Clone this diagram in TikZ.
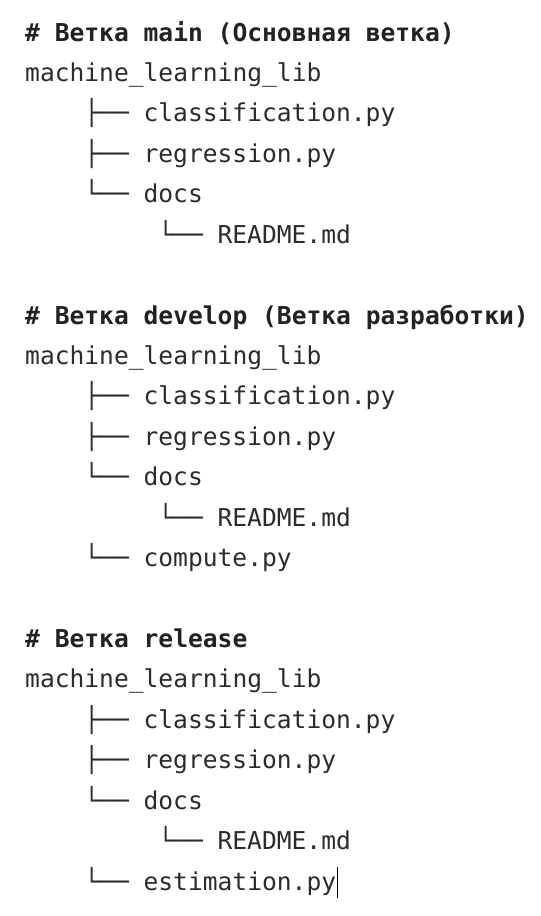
\documentclass[tikz,border=0pt]{standalone}
\usepackage{fontspec}
\newfontfamily\codefont{DejaVu Sans Mono}
\definecolor{txt}{HTML}{2B2B2B}
\definecolor{hdrc}{HTML}{222222}
\begin{document}
\begin{tikzpicture}[x=1pt,y=-1pt,
  code/.style={inner sep=0pt, anchor=base west, text=txt, font=\codefont\fontsize{24.6}{30}\selectfont},
  hdr/.style={code, text=hdrc, font=\codefont\bfseries\fontsize{24.6}{30}\selectfont},
  branch/.style={code},
  cursorline/.style={draw=black, line width=1.6pt}]
\useasboundingbox (0,0) rectangle (541,916);
\begin{scope}[shift={(0,2)}]
% ---- block 1: main
\node[hdr]    (h1)    at (25,39)       {\# Ветка main (Основная ветка)};
\node[code]   (r1)    at (25,79.43)    {machine\_learning\_lib};
\node[branch] (t1a)   at (84.2,119.86) {├──};
\node[code]   (f1a)   at (143.4,119.86){classification.py};
\node[branch] (t1b)   at (84.2,160.29) {├──};
\node[code]   (f1b)   at (143.4,160.29){regression.py};
\node[branch] (t1c)   at (84.2,200.72) {└──};
\node[code]   (f1c)   at (143.4,200.72){docs};
\node[branch] (t1d)   at (158.2,241.15){└──};
\node[code]   (f1d)   at (217.4,241.15){README.md};
% ---- block 2: develop
\node[hdr]    (h2)    at (25,322.01)   {\# Ветка develop (Ветка разработки)};
\node[code]   (r2)    at (25,362.44)   {machine\_learning\_lib};
\node[branch] (t2a)   at (84.2,402.87) {├──};
\node[code]   (f2a)   at (143.4,402.87){classification.py};
\node[branch] (t2b)   at (84.2,443.3)  {├──};
\node[code]   (f2b)   at (143.4,443.3) {regression.py};
\node[branch] (t2c)   at (84.2,483.73) {└──};
\node[code]   (f2c)   at (143.4,483.73){docs};
\node[branch] (t2d)   at (158.2,524.16){└──};
\node[code]   (f2d)   at (217.4,524.16){README.md};
\node[branch] (t2e)   at (84.2,564.59) {└──};
\node[code]   (f2e)   at (143.4,564.59){compute.py};
% ---- block 3: release
\node[hdr]    (h3)    at (25,645.45)   {\# Ветка release};
\node[code]   (r3)    at (25,685.88)   {machine\_learning\_lib};
\node[branch] (t3a)   at (84.2,726.31) {├──};
\node[code]   (f3a)   at (143.4,726.31){classification.py};
\node[branch] (t3b)   at (84.2,766.74) {├──};
\node[code]   (f3b)   at (143.4,766.74){regression.py};
\node[branch] (t3c)   at (84.2,807.17) {└──};
\node[code]   (f3c)   at (143.4,807.17){docs};
\node[branch] (t3d)   at (158.2,847.6) {└──};
\node[code]   (f3d)   at (217.4,847.6) {README.md};
\node[branch] (t3e)   at (84.2,888.03) {└──};
\node[code]   (f3e)   at (143.4,888.03){estimation.py};
% text cursor
\coordinate (cur) at ([xshift=1pt]f3e.base east);
\draw[cursorline] ([yshift=23pt]cur) -- ([yshift=-8pt]cur);
\end{scope}
\end{tikzpicture}
\end{document}
